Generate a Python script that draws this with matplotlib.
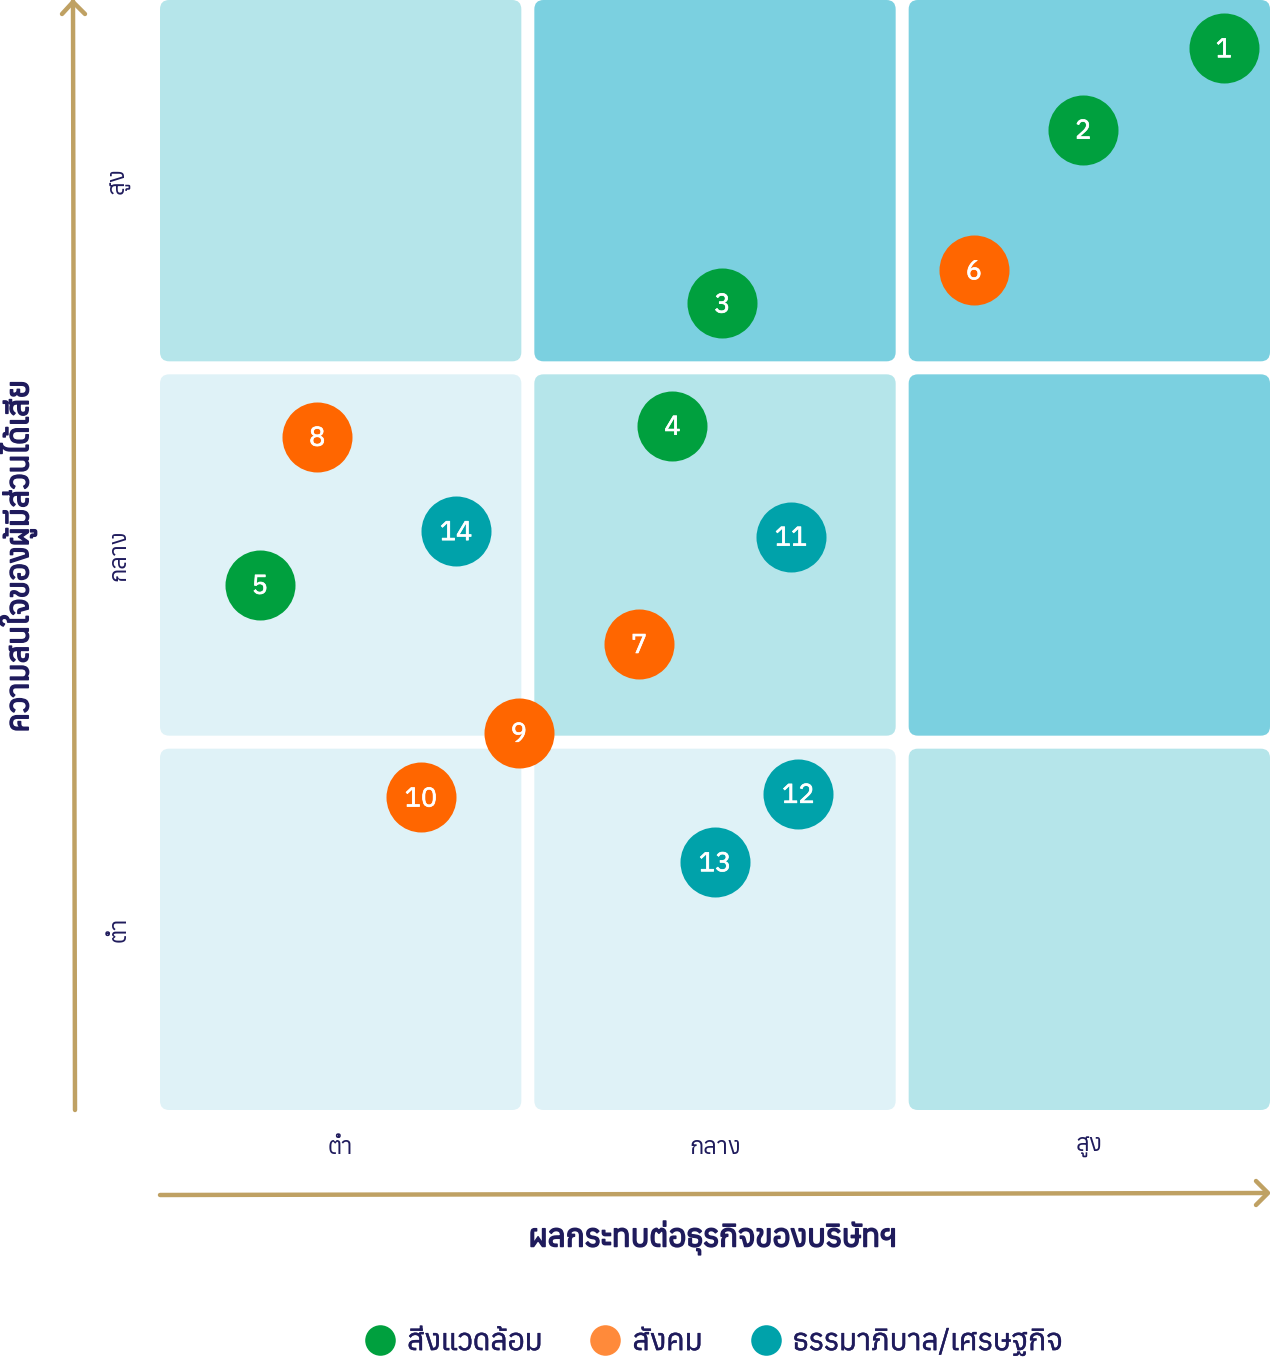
import matplotlib
matplotlib.use("Agg")
import matplotlib.pyplot as plt
import matplotlib.patheffects as pe
from matplotlib.patches import FancyBboxPatch
from matplotlib.lines import Line2D

plt.rcParams['font.family'] = ['Anuphan', 'DejaVu Sans']

# data
ids = [1, 2, 3, 4, 5, 6, 7, 8, 9, 10, 11, 12, 13, 14]
impact = [2.875, 2.495, 1.52, 1.385, 0.27, 2.20, 1.295, 0.425, 0.97, 0.705, 1.705, 1.725, 1.50, 0.80]   # x
interest = [2.87, 2.65, 2.18, 1.85, 1.42, 2.27, 1.26, 1.82, 1.02, 0.845, 1.55, 0.855, 0.67, 1.565]  # y
group = ['env', 'env', 'env', 'env', 'env', 'soc', 'soc', 'soc', 'soc', 'soc', 'gov', 'gov', 'gov', 'gov']

levels = ['ต่ำ', 'กลาง', 'สูง']
group_names = {'env': 'สิ่งแวดล้อม', 'soc': 'สังคม', 'gov': 'ธรรมาภิบาล/เศรษฐกิจ'}
x_title = 'ผลกระทบต่อธุรกิจของบริษัทฯ'
y_title = 'ความสนใจของผู้มีส่วนได้เสีย'

colors = {'env': '#00a03e', 'soc': '#ff6600', 'gov': '#00a2aa'}
legend_colors = {'env': '#00a03e', 'soc': '#ff8a3a', 'gov': '#00a2aa'}

# shade per cell, [row from bottom][col]
c0, c1, c2 = '#dff2f7', '#b5e5ea', '#7bd0e0'
cell_color = [[c0, c0, c1],
              [c0, c1, c2],
              [c1, c2, c2]]

navy = '#1f1b5c'
gold = '#bfa163'

fig = plt.figure(figsize=(12.7, 13.66), dpi=100)
ax = fig.add_axes([160 / 1270, 1 - 1110 / 1366, 1110 / 1270, 1110 / 1366])
ax.set_xlim(0, 3)
ax.set_ylim(0, 3)
ax.axis('off')

gap = 13 / 370
w = (3 - 2 * gap) / 3
rad = 0.025
for r in range(3):
    for c in range(3):
        x0 = c * (w + gap)
        y0 = r * (w + gap)
        ax.add_patch(FancyBboxPatch((x0 + rad, y0 + rad), w - 2 * rad, w - 2 * rad,
                                    boxstyle='round,pad=%f' % rad,
                                    fc=cell_color[r][c], ec='none', zorder=1))

semi_white = [pe.withStroke(linewidth=0.5, foreground='white')]
for i in range(len(ids)):
    ax.scatter(impact[i], interest[i], s=2540, color=colors[group[i]], zorder=3, linewidths=0)
    ax.annotate(str(ids[i]), (impact[i], interest[i]), xytext=(0, -1.2), textcoords='offset points',
                color='white', fontsize=19.5, ha='center', va='center', zorder=4,
                path_effects=semi_white)

# tick labels
for k, lab in enumerate(levels):
    centre = k * (w + gap) + w / 2
    ax.text(centre, -0.1, lab, ha='center', va='center', fontsize=17, color=navy, clip_on=False)
    ax.text(-0.11, centre, lab, ha='center', va='center', fontsize=17, color=navy,
            rotation=90, clip_on=False)

# axis arrows (figure coords)
lw = 3.2
fig.add_artist(Line2D([73 / 1270, 75 / 1270], [1 - 1 / 1366, 1 - 1110 / 1366],
                      color=gold, lw=lw, solid_capstyle='round'))
fig.add_artist(Line2D([62 / 1270, 73 / 1270, 85 / 1270], [1 - 14 / 1366, 1 - 2 / 1366, 1 - 14 / 1366],
                      color=gold, lw=lw, solid_capstyle='round', solid_joinstyle='round'))
fig.add_artist(Line2D([160 / 1270, 1266 / 1270], [1 - 1195 / 1366, 1 - 1193 / 1366],
                      color=gold, lw=lw, solid_capstyle='round'))
fig.add_artist(Line2D([1256 / 1270, 1268 / 1270, 1256 / 1270], [1 - 1181 / 1366, 1 - 1193 / 1366, 1 - 1205 / 1366],
                      color=gold, lw=lw, solid_capstyle='round', solid_joinstyle='round'))

bold_navy = [pe.withStroke(linewidth=1.1, foreground=navy)]
fig.text(713 / 1270, 1 - 1238 / 1366, x_title, ha='center', va='center', fontsize=22.5, color=navy,
         path_effects=bold_navy)
fig.text(18 / 1270, 1 - 556 / 1366, y_title, ha='center', va='center', fontsize=22.5, color=navy,
         rotation=90, path_effects=bold_navy)

handles = [Line2D([], [], marker='o', ls='none', ms=22, mfc=legend_colors[g], mec='none', label=group_names[g])
           for g in ['env', 'soc', 'gov']]
leg = fig.legend(handles=handles, loc='center', bbox_to_anchor=(714 / 1270, 1 - 1342 / 1366), ncol=3,
                 frameon=False, fontsize=21.5, handlelength=1.0, handletextpad=0.4, columnspacing=1.6,
                 labelcolor=navy)
for t in leg.get_texts():
    t.set_path_effects([pe.withStroke(linewidth=0.3, foreground=navy)])

fig.savefig('out.png')
